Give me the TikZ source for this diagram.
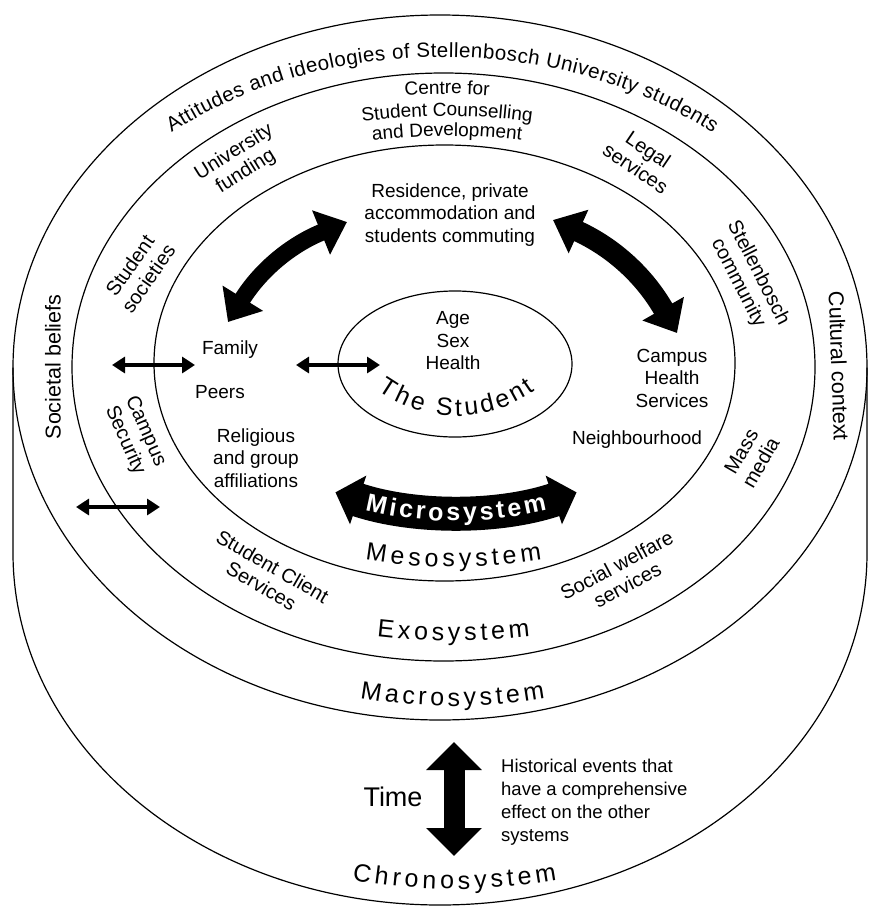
\documentclass[tikz,border=0pt]{standalone}
\usepackage{fontspec}
\setmainfont{Liberation Sans}
\usepackage{tikz}
\usetikzlibrary{arrows.meta,calc,decorations.text}
\newcommand\lblfont{\fontsize{19}{22.5}\selectfont}
\newcommand\rotfont{\fontsize{20}{22.5}\selectfont}
\newcommand\sidefont{\fontsize{21.5}{24}\selectfont}
\newcommand\topfont{\fontsize{20.5}{24}\selectfont}
\newcommand\sysfont{\fontsize{25}{25}\selectfont}
\newcommand\microfont{\bfseries\fontsize{25}{25}\selectfont}
\tikzset{
  ring/.style={draw=black, line width=1.2pt},
  lbl/.style={font=\lblfont, align=center, inner sep=0pt},
  rlbl/.style={font=\rotfont, align=center, inner sep=0pt},
  link/.style={{Triangle[length=13pt,width=16pt]}-{Triangle[length=13pt,width=16pt]}, line width=3.5pt},
  flow/.style={{Triangle[length=28pt,width=46pt]}-{Triangle[length=28pt,width=46pt]}},
  sysname/.style={decorate, decoration={text along path, text align=fit to path, text={|\sysfont|#1}}},
  arcline/.style={decorate, decoration={text along path, text align=center, text={|\lblfont|#1}}},
}
\begin{document}
\begin{tikzpicture}[x=1pt,y=1pt]
  \useasboundingbox (0,0) rectangle (868,-907);
  % chronosystem and the nested systems
  \draw[ring] (13,-367.5) -- (13,-553) arc[start angle=180,end angle=360,x radius=427,y radius=352] -- (867,-367.5);
  \draw[ring] (440,-367.5) ellipse[x radius=427,y radius=352.5];
  \draw[ring] (443.5,-367) ellipse[x radius=371.5,y radius=294];
  \draw[ring] (444.5,-363) ellipse[x radius=290.5,y radius=218];
  \draw[ring] (455,-364) ellipse[x radius=117,y radius=73];

  % macrosystem
  \path[decorate, decoration={text along path, text align=fit to path,
      text={|\topfont|Attitudes and ideologies of Stellenbosch University students}}]
    ($(442,-367)+(131:412 and 310)$) arc[start angle=131,end angle=49,x radius=412,y radius=310];
  \node[rlbl, font=\sidefont, rotate=90] (societal) at (53,-367) {Societal beliefs};
  \node[rlbl, font=\sidefont, rotate=-88] (cultural) at (839,-366) {Cultural context};

  % exosystem
  \path[arcline={Centre for}] ($(447,-694)+(100:600)$) arc[start angle=100,end angle=80,radius=600];
  \path[arcline={Student Counselling}] ($(447,-716)+(100:600)$) arc[start angle=100,end angle=80,radius=600];
  \path[arcline={and Development}] ($(447,-736)+(100:600)$) arc[start angle=100,end angle=80,radius=600];
  \node[rlbl, rotate=32] (unifund) at (240,-162) {University\\funding};
  \node[rlbl, rotate=-34] (legal) at (642,-159) {Legal\\services};
  \node[rlbl, rotate=55] (societies) at (139,-272) {Student\\societies};
  \node[rlbl, rotate=-63] (stellcom) at (748,-278) {Stellenbosch\\community};
  \node[rlbl, rotate=-66] (security) at (135,-436) {Campus\\Security};
  \node[rlbl, rotate=60] (media) at (751,-457) {Mass\\media};
  \node[rlbl, rotate=-30] (clientsvc) at (267,-576) {Student Client\\Services};
  \node[rlbl, rotate=28] (welfare) at (622,-575) {Social welfare\\services};

  % microsystem
  \node[lbl] (residence) at (450,-215) {Residence, private\\accommodation and\\students commuting};
  \node[lbl] (family) at (230,-350) {Family};
  \node[lbl] (peers) at (220,-392) {Peers};
  \node[lbl] (religious) at (256,-458) {Religious\\and group\\affiliations};
  \node[lbl] (healthsvc) at (672,-378) {Campus\\Health\\Services};
  \node[lbl] (neighbour) at (637,-440) {Neighbourhood};
  \node[lbl] (traits) at (453,-341) {Age\\Sex\\Health};

  \coordinate (famUp) at (228,-322);
  \coordinate (resL) at (347,-222);
  \coordinate (resR) at (553,-220);
  \coordinate (healthUp) at (677,-333);
  \draw[flow, line width=17pt] (famUp) to[bend left=18] (resL);
  \draw[flow, line width=21pt] (resR) to[bend left=18] (healthUp);

  \coordinate (exoL) at (112,-365);
  \coordinate (famL) at (195,-365);
  \coordinate (micR) at (296,-365);
  \coordinate (stuL) at (380,-365);
  \coordinate (macL) at (76,-507);
  \coordinate (mesL) at (160,-507);
  \draw[link] (exoL) -- (famL);
  \draw[link] (micR) -- (stuL);
  \draw[link] (macL) -- (mesL);

  \draw[line width=34pt, {Triangle[length=24pt,width=50pt]}-{Triangle[length=24pt,width=50pt]}]
    ($(456,-132)+(251.5:380)$) arc[start angle=251.5,end angle=288.5,radius=380];
  \path[decorate, decoration={text along path, text align=fit to path, text color=white,
      text={|\microfont|Microsystem}}]
    ($(456,-132)+(256.47:389)$) arc[start angle=256.47,end angle=283.53,radius=389];

  % system names
  \path[sysname={The Student}] ($(456.5,-282)+(234.1:134)$) arc[start angle=234.1,end angle=305.9,radius=134];
  \path[sysname=Mesosystem] ($(453.5,-14)+(260.8:553)$) arc[start angle=260.8,end angle=279.2,radius=553];
  \path[sysname=Exosystem] ($(453.5,9)+(263.24:650)$) arc[start angle=263.24,end angle=276.76,radius=650];
  \path[sysname=Macrosystem] ($(452.5,-171)+(260.04:535)$) arc[start angle=260.04,end angle=279.96,radius=535];
  \path[sysname=Chronosystem] ($(454.5,-305)+(259.9:584)$) arc[start angle=259.9,end angle=280.1,radius=584];

  % chronosystem
  \coordinate (timeUp) at (454,-742);
  \coordinate (timeDown) at (454,-856);
  \draw[line width=21pt, {Triangle[length=28pt,width=54pt]}-{Triangle[length=28pt,width=54pt]}] (timeUp) -- (timeDown);
  \node[lbl, font=\fontsize{27}{27}\selectfont] (time) at (393,-797) {Time};
  \node[lbl, align=left, anchor=west, font=\fontsize{18.5}{23}\selectfont] (history) at (501,-802)
    {Historical events that\\have a comprehensive\\effect on the other\\systems};
\end{tikzpicture}
\end{document}
